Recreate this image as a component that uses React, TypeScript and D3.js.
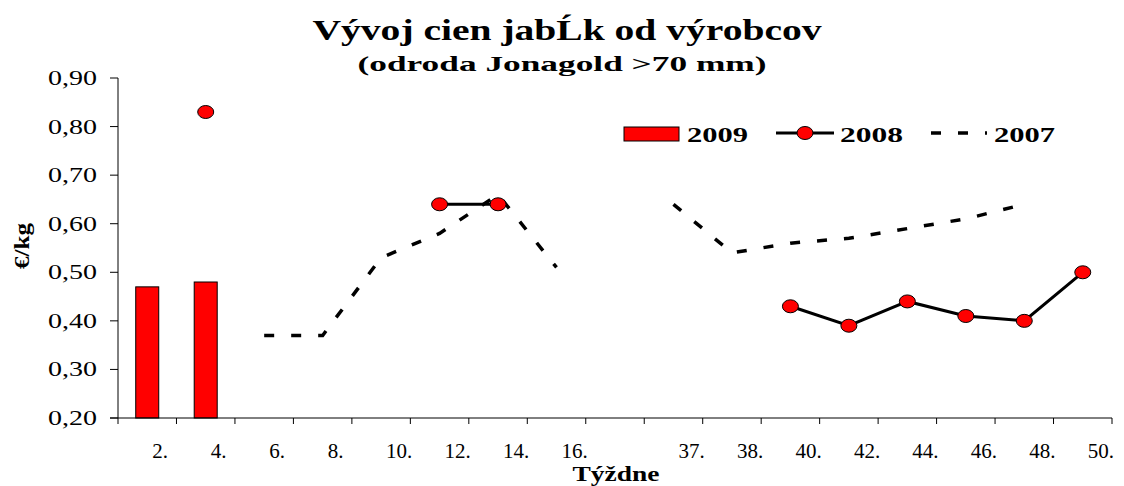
import React, { useEffect } from "react";
import * as d3 from "d3";

// weeks on the x axis (index 8 is an empty slot between 16. and 37.)
const weeks = ["2.", "4.", "6.", "8.", "10.", "12.", "14.", "16.", "", "37.", "38.", "40.", "42.", "44.", "46.", "48.", "50."];
const prices2009 = [0.47, 0.48, null, null, null, null, null, null, null, null, null, null, null, null, null, null, null];
const prices2008 = [null, 0.83, null, null, null, 0.64, 0.64, null, null, null, null, 0.43, 0.39, 0.44, 0.41, 0.40, 0.50];
const prices2007 = [null, null, 0.37, 0.37, 0.53, 0.58, 0.66, 0.51, null, 0.64, 0.54, 0.56, 0.57, 0.59, 0.61, 0.64, null];
const yTicks = [0.2, 0.3, 0.4, 0.5, 0.6, 0.7, 0.8, 0.9];

const W = 1124;
const H = 486;
const font = "'Liberation Serif', 'Times New Roman', serif";

const x = d3.scaleBand<number>().domain(d3.range(weeks.length)).range([118, 1112]).padding(0);
const y = d3.scaleLinear().domain([0.2, 0.9]).range([418, 78]);
const cx = (i: number) => (x(i) as number) + x.bandwidth() / 2;

const fmt = (v: number) => v.toFixed(2).replace(".", ",");

export default function App() {
  useEffect(() => {
    document.body.style.margin = "0";
  }, []);

  const line = d3
    .line<number | null>()
    .defined((d) => d != null)
    .x((_, i) => cx(i))
    .y((d) => y(d as number));

  const barW = 23;

  return (
    <svg width={W} height={H} style={{ display: "block", fontFamily: font }}>
      <rect width={W} height={H} fill="#fff" />

      {/* titles */}
      <text x={567} y={40} textAnchor="middle" fontSize={30} fontWeight="bold" textLength={509} lengthAdjust="spacingAndGlyphs">
        Vývoj cien jabĹk od výrobcov
      </text>
      <text x={562} y={71} textAnchor="middle" fontSize={22} fontWeight="bold" textLength={409} lengthAdjust="spacingAndGlyphs">
        (odroda Jonagold &gt;70 mm)
      </text>

      {/* bars 2009 */}
      {prices2009.map((v, i) =>
        v == null ? null : (
          <rect key={i} x={cx(i) - barW / 2} y={y(v)} width={barW} height={y(0.2) - y(v)} fill="#FF0000" stroke="#000" strokeWidth={1} />
        )
      )}

      {/* 2007 dashed */}
      <path d={line(prices2007) || ""} fill="none" stroke="#000" strokeWidth={3.5} strokeDasharray="10,17" />

      {/* 2008 line + markers */}
      <path d={line(prices2008) || ""} fill="none" stroke="#000" strokeWidth={3} />
      {prices2008.map((v, i) =>
        v == null ? null : <ellipse key={i} cx={cx(i)} cy={y(v)} rx={8} ry={6.5} fill="#FF0000" stroke="#000" strokeWidth={1} />
      )}

      {/* axes */}
      <line x1={118} x2={118} y1={y(0.9)} y2={y(0.2)} stroke="#000" strokeWidth={1} />
      <line x1={110} x2={1112} y1={y(0.2)} y2={y(0.2)} stroke="#000" strokeWidth={1} />
      {yTicks.map((t) => (
        <g key={t}>
          <line x1={110} x2={118} y1={y(t)} y2={y(t)} stroke="#000" />
          <text x={48} y={y(t) + 7} fontSize={21} textLength={49} lengthAdjust="spacingAndGlyphs">
            {fmt(t)}
          </text>
        </g>
      ))}
      {d3.range(weeks.length + 1).map((i) => {
        const xx = i < weeks.length ? (x(i) as number) : 1112;
        return <line key={i} x1={xx} x2={xx} y1={418} y2={424} stroke="#000" />;
      })}
      {weeks.map((w, i) => (
        <text key={i} x={cx(i) + 5} y={458} fontSize={21}>
          {w}
        </text>
      ))}

      {/* axis titles */}
      <text x={616} y={481} textAnchor="middle" fontSize={20} fontWeight="bold" textLength={87} lengthAdjust="spacingAndGlyphs">
        Týždne
      </text>
      <text transform="translate(29,246) rotate(-90)" textAnchor="middle" fontSize={20} fontWeight="bold" textLength={46} lengthAdjust="spacingAndGlyphs">
        €/kg
      </text>

      {/* legend */}
      <rect x={624} y={127} width={55} height={14} fill="#FF0000" stroke="#000" strokeWidth={1} />
      <text x={687} y={142} fontSize={22} fontWeight="bold" textLength={61} lengthAdjust="spacingAndGlyphs">2009</text>
      <line x1={776} x2={834} y1={133} y2={133} stroke="#000" strokeWidth={3} />
      <ellipse cx={805} cy={133} rx={8} ry={6.5} fill="#FF0000" stroke="#000" strokeWidth={1} />
      <text x={840} y={142} fontSize={22} fontWeight="bold" textLength={63} lengthAdjust="spacingAndGlyphs">2008</text>
      <line x1={931} x2={987} y1={133} y2={133} stroke="#000" strokeWidth={3.5} strokeDasharray="10,17" />
      <text x={994} y={142} fontSize={22} fontWeight="bold" textLength={61} lengthAdjust="spacingAndGlyphs">2007</text>
    </svg>
  );
}
